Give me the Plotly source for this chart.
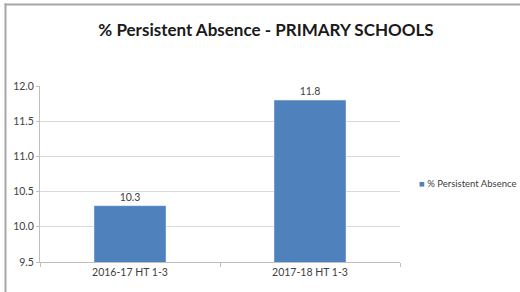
import plotly.graph_objects as go

categories = ["2016-17 HT 1-3", "2017-18 HT 1-3"]
values = [10.3, 11.8]
series_name = "% Persistent Absence"
y_ticks = [9.5, 10.0, 10.5, 11.0, 11.5, 12.0]
y_tick_labels = ["9.5", "10.0", "10.5", "11.0", "11.5", "12.0"]

bar_color = "#4F81BD"
font_fam = "Lato, Open Sans, sans-serif"

fig = go.Figure()
fig.add_trace(go.Bar(
    x=categories, y=values, width=0.4, marker_color=bar_color,
    text=[f"{v:.1f}" for v in values], textposition="outside",
    textfont=dict(size=10.5, color="#404040", family=font_fam),
    cliponaxis=False, showlegend=False, name=series_name,
))

W, H = 520, 292
L, R, T, B = 40, 120, 86, 30
pw, ph = W - L - R, H - T - B

def px_x(p):
    return (p - L) / pw

def px_y(p):
    return (H - B - p) / ph

fig.update_layout(
    width=W, height=H,
    margin=dict(l=L, r=R, t=T, b=B),
    paper_bgcolor="white", plot_bgcolor="white",
    title=dict(text="<b>% Persistent Absence - PRIMARY SCHOOLS</b>",
               x=266 / W, xanchor="center", y=1 - 30 / H, yanchor="middle",
               font=dict(family=font_fam, size=17, color="#1a1a1a")),
    font=dict(family=font_fam, size=10.5, color="#404040"),
    showlegend=False,
    xaxis=dict(showline=True, linecolor="#BFBFBF", linewidth=1,
               ticks="outside", ticklen=4, tickcolor="#BFBFBF",
               tickson="boundaries", showgrid=False,
               tickfont=dict(size=10.5, color="#404040", family=font_fam)),
    yaxis=dict(range=[9.5, 12.0], tickvals=y_ticks, ticktext=y_tick_labels,
               showline=True, linecolor="#BFBFBF", linewidth=1,
               ticks="outside", ticklen=3, tickcolor="#BFBFBF",
               showgrid=True, gridcolor="#D9D9D9", gridwidth=1, zeroline=False,
               tickfont=dict(size=10.5, color="#404040", family=font_fam)),
    annotations=[
        dict(xref="paper", yref="paper", x=px_x(417), y=px_y(183),
             xanchor="left", yanchor="middle", showarrow=False,
             text=f"<span style='color:{bar_color}'>■</span> {series_name}",
             font=dict(size=9.5, color="#404040", family=font_fam)),
    ],
    shapes=[
        dict(type="line", xref="paper", yref="paper",
             x0=px_x(5.5), x1=px_x(5.5), y0=px_y(3.5), y1=px_y(300),
             line=dict(color="#A6A6A6", width=2)),
        dict(type="line", xref="paper", yref="paper",
             x0=px_x(4.5), x1=px_x(520), y0=px_y(4.5), y1=px_y(4.5),
             line=dict(color="#A6A6A6", width=2)),
    ],
)

fig.write_html("out.html", config={"displayModeBar": False},
               post_script="document.body.style.margin='0';")
